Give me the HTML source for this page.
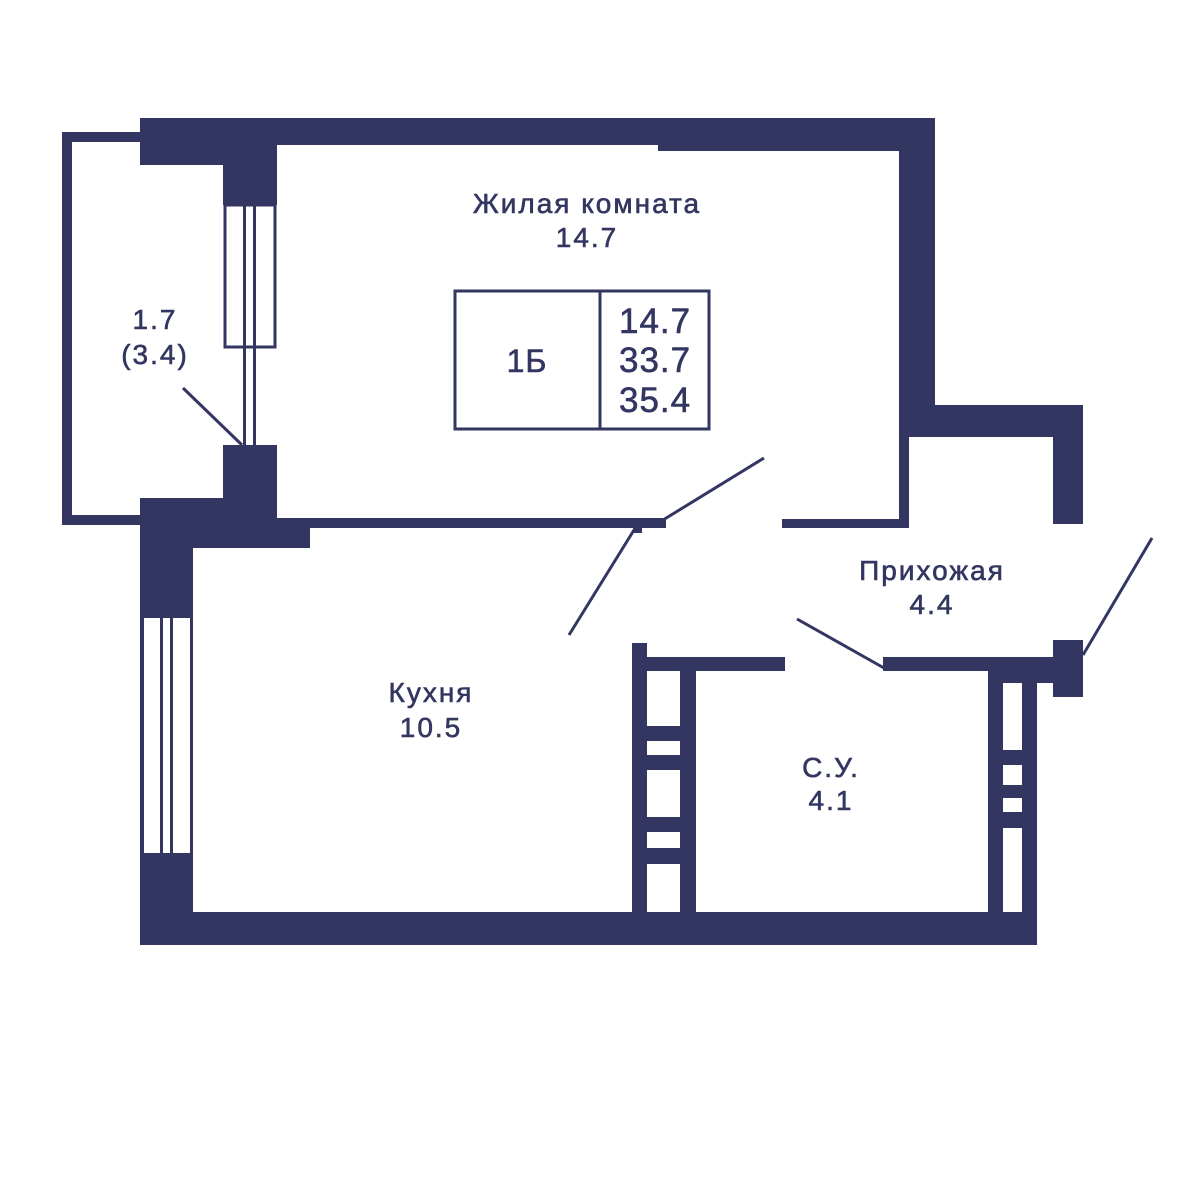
<!DOCTYPE html>
<html><head><meta charset="utf-8"><style>
html,body{margin:0;padding:0;background:#fff;}
svg{display:block;}
text{font-family:"Liberation Sans","DejaVu Sans",sans-serif;fill:#323660;}
</style></head><body>
<svg width="1200" height="1200" viewBox="0 0 1200 1200" xmlns="http://www.w3.org/2000/svg">
<g fill="#323660">
<rect x="140" y="118" width="518" height="27"/>
<rect x="658" y="118" width="277" height="33"/>
<rect x="140" y="118" width="137" height="47"/>
<rect x="223" y="118" width="54" height="87"/>
<rect x="899" y="118" width="36" height="319"/>
<rect x="899" y="405" width="184" height="32"/>
<rect x="899" y="405" width="10" height="123"/>
<rect x="1053" y="405" width="30" height="119"/>
<rect x="782" y="519" width="127" height="9"/>
<rect x="275" y="518" width="391" height="10"/>
<rect x="633" y="518" width="9" height="15"/>
<rect x="62" y="132" width="10" height="393"/>
<rect x="62" y="132" width="80" height="10"/>
<rect x="62" y="515" width="80" height="10"/>
<rect x="223" y="445" width="54" height="80"/>
<rect x="140" y="498" width="137" height="27"/>
<rect x="140" y="523" width="170" height="25"/>
<rect x="140" y="498" width="53" height="120"/>
<rect x="140" y="618" width="4" height="237"/>
<rect x="160" y="618" width="3" height="237"/>
<rect x="170" y="618" width="3" height="237"/>
<rect x="190" y="618" width="3" height="237"/>
<rect x="140" y="853" width="53" height="92"/>
<rect x="140" y="912" width="897" height="33"/>
<rect x="632" y="643" width="15" height="270"/>
<rect x="680" y="657" width="16" height="256"/>
<rect x="632" y="657" width="153" height="14"/>
<rect x="647" y="726" width="33" height="15"/>
<rect x="647" y="755" width="33" height="15"/>
<rect x="647" y="817" width="33" height="15"/>
<rect x="647" y="848" width="33" height="16"/>
<rect x="883" y="657" width="170" height="14"/>
<rect x="988" y="671" width="95" height="12"/>
<rect x="1053" y="640" width="30" height="57"/>
<rect x="988" y="671" width="15" height="242"/>
<rect x="1022" y="683" width="15" height="230"/>
<rect x="1003" y="750" width="19" height="15"/>
<rect x="1003" y="785" width="19" height="13"/>
<rect x="1003" y="812" width="19" height="16"/>
</g>
<g fill="none" stroke="#323660">
<rect x="225" y="205" width="50" height="142" stroke-width="3"/>
<line x1="244.5" y1="205" x2="244.5" y2="445" stroke-width="3"/>
<line x1="254.5" y1="205" x2="254.5" y2="445" stroke-width="3"/>
<line x1="183" y1="388" x2="242" y2="445" stroke-width="3"/>
<line x1="663" y1="520" x2="764" y2="458" stroke-width="3"/>
<line x1="634" y1="530" x2="569" y2="635" stroke-width="3"/>
<line x1="797" y1="619" x2="884" y2="668" stroke-width="3"/>
<line x1="1083" y1="655" x2="1152" y2="538" stroke-width="3"/>
<rect x="455" y="291" width="254" height="138" stroke-width="3"/>
<line x1="600" y1="291" x2="600" y2="429" stroke-width="3"/>
</g>
<g font-size="28" letter-spacing="2" text-anchor="middle" stroke="#323660" stroke-width="0.6">
<text x="587" y="213">Жилая комната</text>
<text x="587" y="247">14.7</text>
<text x="155" y="329">1.7</text>
<text x="155" y="364">(3.4)</text>
<text x="431" y="702">Кухня</text>
<text x="431" y="737">10.5</text>
<text x="932" y="580">Прихожая</text>
<text x="932" y="614">4.4</text>
<text x="831" y="777">С.У.</text>
<text x="831" y="810">4.1</text>
</g>
<text x="527" y="372" font-size="32" letter-spacing="1" text-anchor="middle" stroke="#323660" stroke-width="0.6">1Б</text>
<g font-size="35" letter-spacing="1" stroke="#323660" stroke-width="0.6">
<text x="619" y="333">14.7</text>
<text x="619" y="372">33.7</text>
<text x="619" y="412">35.4</text>
</g>
</svg>
</body></html>
